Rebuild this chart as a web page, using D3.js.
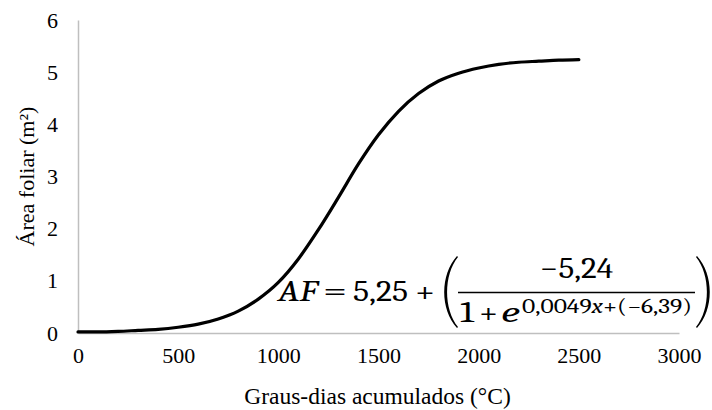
<!DOCTYPE html>
<html>
<head>
<meta charset="utf-8">
<script src="https://cdn.jsdelivr.net/npm/d3@7"></script>
<style>
  html, body { margin: 0; padding: 0; background: #fff; }
  svg { display: block; }
</style>
</head>
<body>
<svg id="chart" width="712" height="410"></svg>
<script>
// Accumulated degree-days (°C) and leaf area (m²) along the fitted curve
const degreeDays = [0, 100, 200, 300, 400, 500, 600, 700, 800, 900, 1000, 1100, 1200,
  1300, 1400, 1500, 1600, 1700, 1800, 1900, 2000, 2100, 2200, 2300, 2400, 2500];
const leafArea = [0.02, 0.02, 0.03, 0.05, 0.07, 0.11, 0.17, 0.27, 0.42, 0.65, 0.97, 1.42, 1.98,
  2.60, 3.24, 3.80, 4.25, 4.59, 4.83, 4.98, 5.08, 5.15, 5.19, 5.21, 5.23, 5.24];
const xTicks = [0, 500, 1000, 1500, 2000, 2500, 3000];
const yTicks = [0, 1, 2, 3, 4, 5, 6];
const xTitle = "Graus-dias acumulados (°C)";
const yTitle = "Área foliar (m²)";

(function () {
const svg = d3.select("#chart");
const plotLeft = 78, plotRight = 679, plotTop = 20, plotBottom = 333;

const x = d3.scaleLinear().domain([0, 3000]).range([plotLeft, plotRight]);
const y = d3.scaleLinear().domain([0, 6]).range([plotBottom, plotTop]);

const serif = "Liberation Serif";
const mathFont = "Cambria";

// Axes: light grey baselines, no tick marks
const xAxis = svg.append("g")
  .attr("transform", `translate(0,${plotBottom})`)
  .call(d3.axisBottom(x).tickValues(xTicks).tickSize(0).tickPadding(14).tickFormat(d3.format("d")));
const yAxis = svg.append("g")
  .attr("transform", `translate(${plotLeft},0)`)
  .call(d3.axisLeft(y).tickValues(yTicks).tickSize(0).tickPadding(20).tickFormat(d3.format("d")));

[xAxis, yAxis].forEach(g => {
  g.attr("font-family", null).attr("font-size", null);
  g.select(".domain").attr("stroke", "#bfbfbf").attr("stroke-width", 1.5);
  g.selectAll("text").style("font-family", serif).style("font-size", "22px").attr("fill", "#000");
});
xAxis.selectAll("text").attr("dy", "0.71em");

// Axis titles
svg.append("text")
  .attr("x", 377.5)
  .attr("y", 404)
  .attr("text-anchor", "middle")
  .style("font-family", serif).style("font-size", "23.5px")
  .text(xTitle);

svg.append("text")
  .attr("transform", "translate(34,176.5) rotate(-90)")
  .attr("text-anchor", "middle")
  .style("font-family", serif).style("font-size", "22px")
  .text(yTitle);

// Curve
const line = d3.line()
  .x((d, i) => x(degreeDays[i]))
  .y(d => y(d))
  .curve(d3.curveMonotoneX);

svg.append("path")
  .datum(leafArea)
  .attr("d", line)
  .attr("fill", "none")
  .attr("stroke", "#000")
  .attr("stroke-width", 3.2)
  .attr("stroke-linecap", "round");

// Fitted equation
const eq = svg.append("g").attr("fill", "#000");
const main = "30px", sup = "20px";
const put = (tx, ty, size, str, opts = {}) => {
  const t = eq.append("text").attr("x", tx).attr("y", ty)
    .style("font-family", mathFont).style("font-size", size).text(str);
  if (opts.italic) t.style("font-style", "italic");
  if (opts.len) t.attr("textLength", opts.len).attr("lengthAdjust", "spacingAndGlyphs");
  return t;
};

put(278, 301, main, "AF", { italic: true, len: 40 });
put(323, 301, main, "=", { len: 24 });
put(353, 301, main, "5,25", { len: 55 });
put(415, 301, main, "+", { len: 20 });

// Large parentheses, drawn as tapered crescents
eq.append("path")
  .attr("d", "M457,256 C440,275 440,309 457,328 L458,327 C443.5,309 443.5,275 458,257 Z");
eq.append("path")
  .attr("d", "M697,256 C714,275 714,309 697,328 L696,327 C710.5,309 710.5,275 696,257 Z");

// Fraction
put(540, 278, main, "−5,24", { len: 73 });
eq.append("line").attr("x1", 458).attr("x2", 695).attr("y1", 292.5).attr("y2", 292.5)
  .attr("stroke", "#000").attr("stroke-width", 1.6);
put(460, 322, main, "1", { len: 14 });
put(479, 322, main, "+", { len: 19 });
put(501, 322, main, "e", { italic: true, len: 19 });
const supText = put(522, 313, sup, "", { len: 170 });
supText.append("tspan").text("0,0049");
supText.append("tspan").style("font-style", "italic").text("x");
supText.append("tspan").text("+(−6,39)");
})();
</script>
</body>
</html>
